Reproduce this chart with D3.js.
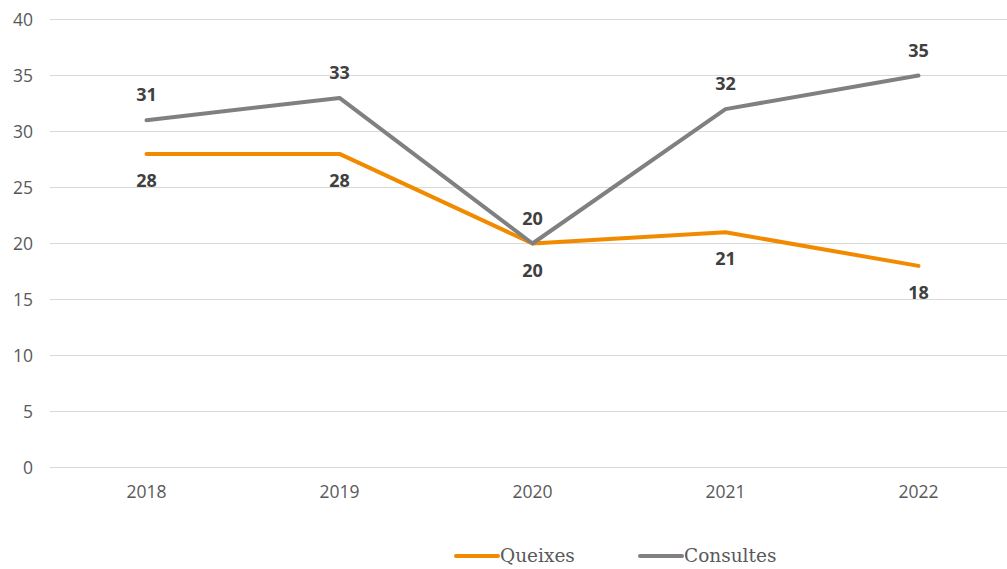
<!DOCTYPE html>
<html>
<head>
<meta charset="utf-8">
<script src="https://cdn.jsdelivr.net/npm/d3@7"></script>
<style>
  body { margin: 0; background: #fff; }
  svg text { font-family: "Open Sans", sans-serif; }
</style>
</head>
<body>
<div id="chart"></div>
<script>
// chart data
var years = ["2018", "2019", "2020", "2021", "2022"];
var queixes = [28, 28, 20, 21, 18];
var consultes = [31, 33, 20, 32, 35];
var yTicks = [0, 5, 10, 15, 20, 25, 30, 35, 40];

var series = [
    { name: "Queixes", values: queixes, color: "#f28a00", labelDy: 33 },
    { name: "Consultes", values: consultes, color: "#808080", labelDy: -19 }
];

var width = 1007, height = 569;

var svg = d3.select("#chart")
    .append("svg")
    .attr("width", width)
    .attr("height", height);

var x = d3.scaleBand()
    .domain(years)
    .range([50, 1015]);

var y = d3.scaleLinear()
    .domain([0, 40])
    .range([467.5, 19.5]);

// gridlines
svg.selectAll(".grid")
    .data(yTicks)
    .enter().append("line")
    .attr("class", "grid")
    .attr("x1", 50)
    .attr("x2", width)
    .attr("y1", function(d) { return y(d); })
    .attr("y2", function(d) { return y(d); })
    .attr("stroke", "#d9d9d9")
    .attr("stroke-width", 1);

// y tick labels
svg.selectAll(".ylab")
    .data(yTicks)
    .enter().append("text")
    .attr("class", "ylab")
    .attr("x", 33)
    .attr("y", function(d) { return y(d) + 6; })
    .attr("text-anchor", "end")
    .attr("font-size", 17.5)
    .attr("fill", "#595959")
    .text(function(d) { return d; });

// x tick labels
svg.selectAll(".xlab")
    .data(years)
    .enter().append("text")
    .attr("class", "xlab")
    .attr("x", function(d) { return x(d) + x.bandwidth() / 2; })
    .attr("y", 498)
    .attr("text-anchor", "middle")
    .attr("font-size", 17.5)
    .attr("fill", "#595959")
    .text(function(d) { return d; });

var line = d3.line()
    .x(function(d, i) { return x(years[i]) + x.bandwidth() / 2; })
    .y(function(d) { return y(d); });

series.forEach(function(s) {
    svg.append("path")
        .datum(s.values)
        .attr("fill", "none")
        .attr("stroke", s.color)
        .attr("stroke-width", 4)
        .attr("stroke-linejoin", "round")
        .attr("stroke-linecap", "round")
        .attr("d", line);

    svg.selectAll(".lab-" + s.name)
        .data(s.values)
        .enter().append("text")
        .attr("x", function(d, i) { return x(years[i]) + x.bandwidth() / 2; })
        .attr("y", function(d) { return y(d) + s.labelDy; })
        .attr("text-anchor", "middle")
        .attr("font-size", 18)
        .attr("font-weight", "bold")
        .attr("fill", "#404040")
        .text(function(d) { return d; });
});

// legend
var legend = svg.selectAll(".legend")
    .data(series)
    .enter().append("g")
    .attr("class", "legend")
    .attr("transform", function(d, i) { return "translate(" + (456 + i * 184) + ",556)"; });

legend.append("line")
    .attr("x1", 0)
    .attr("x2", 42)
    .attr("stroke", function(d) { return d.color; })
    .attr("stroke-width", 4)
    .attr("stroke-linecap", "round");

legend.append("text")
    .attr("x", 44)
    .attr("y", 6)
    .attr("font-size", 18.5)
    .style("font-family", "'DejaVu Serif', serif")
    .attr("fill", "#595959")
    .text(function(d) { return d.name; });
</script>
</body>
</html>
